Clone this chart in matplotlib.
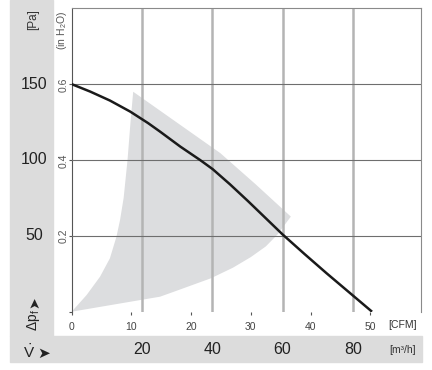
import matplotlib
matplotlib.use('Agg')
import matplotlib.pyplot as plt
import matplotlib.transforms as mtransforms
from matplotlib.patches import Rectangle

plt.rcParams['font.family'] = ['Liberation Sans', 'DejaVu Sans']

# --- dados ---
# curva característica (CFM, Pa)
curve_cfm = [0, 3.1, 6.4, 9.8, 12.8, 14.8, 18.2, 21.5, 23.6, 26.5, 29.5, 32.4, 35.3,
             39.0, 42.7, 50.3]
curve_pa = [150, 145.1, 139.2, 131.9, 124.3, 118.7, 108.8, 100, 94, 84, 73, 62, 51,
            38, 25.3, 0]

# área de operação (contorno do polígono cinza)
area_cfm = [0, 2.5, 4.75, 6.4, 7.5, 8.1, 8.7, 9.35, 9.85, 10.3,
            24.9, 30.8, 36.7,
            34.5, 32.5, 30.0, 27.0, 23.3, 17.0, 14.8, 0]
area_pa = [0, 11, 23.1, 35.2, 49.5, 60.5, 75, 100, 125, 145,
           104.5, 84, 62.7,
           51, 43, 36, 29, 22, 13, 9.9, 0]

cfm_ticks = [0, 10, 20, 30, 40, 50]
pa_ticks = [50, 100, 150]
inh2o_ticks = [0.2, 0.4, 0.6]
m3h_ticks = [20, 40, 60, 80]

M3H_PER_CFM = 1.699
PA_PER_INH2O = 249.09

W, H = 432, 370
fig = plt.figure(figsize=(W / 100, H / 100), dpi=100)


def fx(px):
    return px / W


def fy(py):
    return 1 - py / H


# faixas cinzas do fundo
band = '#dcdcdc'
fig.patches.append(Rectangle((fx(10), fy(336)), fx(53) - fx(10), 1 - fy(336),
                             transform=fig.transFigure, color=band, zorder=-1))
fig.patches.append(Rectangle((fx(10), fy(362)), fx(422) - fx(10), fy(336) - fy(362),
                             transform=fig.transFigure, color=band, zorder=-1))

ax = fig.add_axes([fx(71.7), fy(311.7), fx(421) - fx(71.7), fy(8.3) - fy(311.7)])
ax.set_xlim(0, 58.5)
ax.set_ylim(0, 200)

ax.fill(area_cfm, area_pa, color='#dcdddf', lw=0, zorder=1)

for v in m3h_ticks:
    ax.axvline(v / M3H_PER_CFM, color='#b4b4b4', lw=1.8, zorder=2)
for p in pa_ticks:
    ax.axhline(p, color='#6e6e6e', lw=0.8, zorder=3)

ax.plot(curve_cfm, curve_pa, color='#1a1a1a', lw=1.8, zorder=4,
        solid_capstyle='butt', solid_joinstyle='round')

for s in ['top', 'right']:
    ax.spines[s].set_color('#8a8a8a')
    ax.spines[s].set_linewidth(0.8)
ax.spines['left'].set_color('#555555')
ax.spines['left'].set_linewidth(0.8)
ax.spines['bottom'].set_visible(False)

ax.set_xticks(cfm_ticks)
ax.set_xticklabels([str(v) for v in cfm_ticks])
ax.set_yticks([0] + pa_ticks)
ax.set_yticklabels([])
ax.tick_params(axis='x', length=2.5, width=0.8, color='#555555', pad=5,
               labelsize=7.5, labelcolor='#444444')
ax.tick_params(axis='y', length=2.5, width=0.8, color='#555555')

fig.text(fx(403), fy(325), '[CFM]', fontsize=7.5,
         ha='center', va='center', color='#333333')

# eixo esquerdo: Pa e inH2O
tr_y = mtransforms.blended_transform_factory(fig.transFigure, ax.transData)
for p in pa_ticks:
    ax.text(fx(34.5), p, str(p), transform=tr_y, fontsize=11.5,
            ha='center', va='center', color='#222222')
for v in inh2o_ticks:
    ax.text(fx(64), v * PA_PER_INH2O, str(v), transform=tr_y, fontsize=7.5,
            rotation=90, ha='center', va='center', color='#555555')

fig.text(fx(33), fy(20), '[Pa]', fontsize=8.5, rotation=90,
         ha='center', va='center', color='#333333')
fig.text(fx(62), fy(30), r'(in H$_\mathregular{2}$O)', fontsize=7.5, rotation=90,
         ha='center', va='center', color='#555555')
fig.text(fx(34), fy(320), r'$\mathregular{\Delta p_f}$', fontsize=10, rotation=90,
         ha='center', va='center', color='#222222')
fig.text(fx(34), fy(302), '➤', fontsize=10, rotation=90, family=['DejaVu Sans'],
         ha='center', va='center', color='#222222')

# eixo de baixo: m³/h
tr_x = mtransforms.blended_transform_factory(ax.transData, fig.transFigure)
for v in m3h_ticks:
    ax.text(v / M3H_PER_CFM, fy(349), str(v), transform=tr_x, fontsize=11.5,
            ha='center', va='center', color='#222222')
fig.text(fx(403), fy(350), '[m³/h]', fontsize=7.5, ha='center', va='center',
         color='#333333')
fig.text(fx(35.5), fy(352), r'$\dot{\mathregular{V}}$', fontsize=11, ha='right',
         va='center', color='#222222')
fig.text(fx(37.5), fy(353), '➤', fontsize=11, family=['DejaVu Sans'],
         ha='left', va='center', color='#222222')

fig.savefig('out.png', dpi=100)
